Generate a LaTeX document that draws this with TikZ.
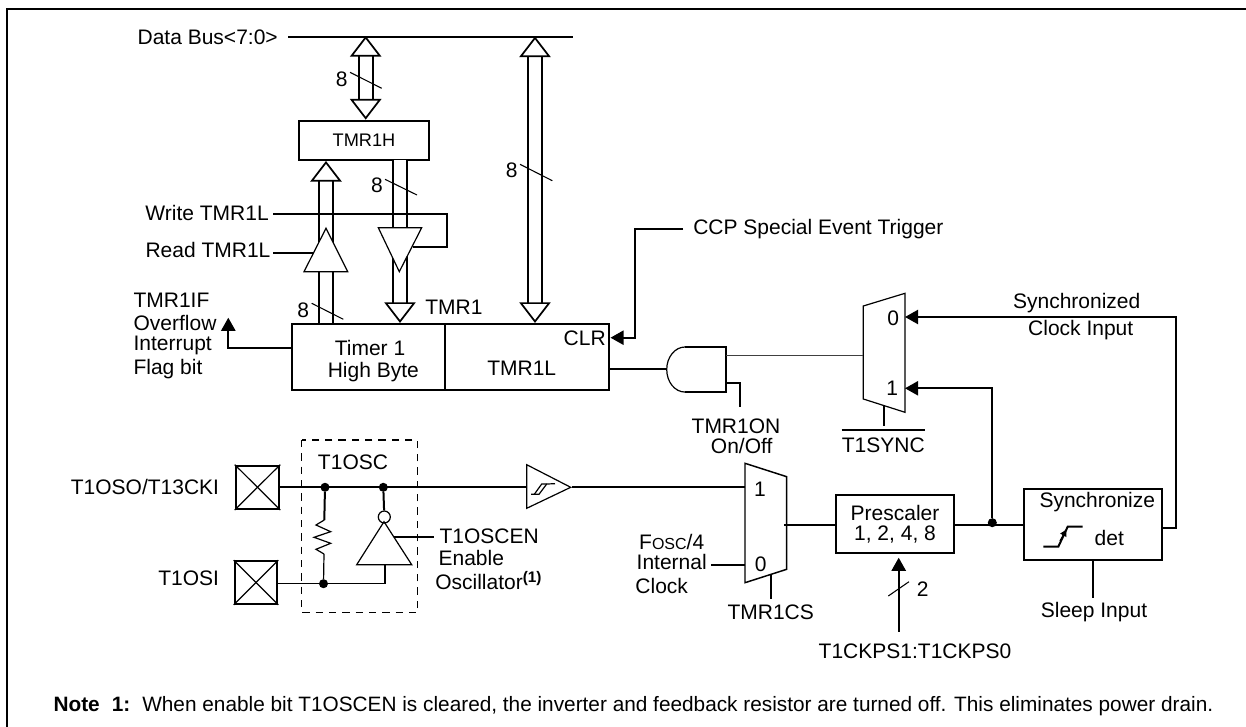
\documentclass[tikz,border=0pt]{standalone}
\usepackage{fontspec}
\setmainfont{Liberation Sans}
\usetikzlibrary{arrows.meta}
\begin{document}
\begin{tikzpicture}[x=.75pt,y=-.75pt]
      \tikzset{wire/.style={line width=1.5pt},
               thinwire/.style={line width=.9pt},
               box/.style={draw, line width=1.5pt, inner sep=0pt},
               lab/.style={inner sep=0pt, font=\fontsize{15.75}{20}\selectfont},
               dot/.style={circle, fill=black, inner sep=0pt, minimum size=6.8pt},
               filltip/.style={-{Triangle[length=9.8pt,width=10.6pt]}},
               bus/.style={double, double distance=8.8pt, line width=1.5pt, >={Triangle[open,fill=white,length=15.5pt,width=23.5pt,line width=1.3pt]}},
               slash/.style={line width=.8pt}}
      \useasboundingbox (0,0) rectangle (1246,727);
%% Frame
      \coordinate (cornerb) at (7,727);
      \coordinate (cornera) at (7,9);
      \coordinate (cornerc) at (1246,9);
      \draw[line width=1.7pt] (cornerb) -- (cornera) -- (cornerc);
%% Registers
      \node[box, minimum width=98pt, minimum height=29.5pt, font=\fontsize{13.65}{16}\selectfont] (tmrh) at (364,140.3) {TMR1H};
      \node[box, minimum width=114.8pt, minimum height=49.3pt] (timerh) at (368.5,356.8) {};
      \node[box, minimum width=123pt, minimum height=49.3pt] (timerl) at (527,356.8) {};
      \node[lab] (timerha) at (370,347.7) {Timer 1};
      \node[lab] (timerhb) at (373.3,371.7) {High Byte};
      \node[lab] (timerlb) at (521.7,368.3) {TMR1L};
      \node[lab, anchor=east] (clr) at (606,338) {CLR};
      \node[lab, anchor=west] (tmrone) at (425,307.7) {TMR1};
%% Data bus
      \node[lab, anchor=east] (ldbus) at (278,37) {Data Bus<7:0>};
      \coordinate (dbusw) at (288,36.7);
      \coordinate (dbuse) at (573,36.7);
      \draw[wire] (dbusw) -- (dbuse);
      \coordinate (busa) at (365.7,36);
      \coordinate (busb) at (535,36.5);
      \coordinate (rdbus) at (326,323.5);
      \coordinate (wrbus) at (400,160.5);
      \draw[bus, <->] (busa) -- (busa |- tmrh.north);
      \draw[bus, <->] (busb) -- (busb |- timerl.north);
      \draw[bus, ->] (rdbus) -- (rdbus |- tmrh.south);
      \draw[bus, ->] (wrbus) -- (wrbus |- timerh.north);
%% Widths
      \node[lab] (na) at (341.7,79.3) {8};
      \node[lab] (nb) at (377,185) {8};
      \node[lab] (nc) at (511.7,170.7) {8};
      \node[lab] (nd) at (303.3,310) {8};
      \draw[slash] (350,72.3) -- (381.7,88.3);
      \draw[slash] (385,179.3) -- (417,195);
      \draw[slash] (520,164.3) -- (552.3,180.7);
      \draw[slash] (311.7,303.3) -- (343.3,319.3);
%% Read and write buffers
      \draw[thinwire, fill=white] (326,228.3) -- (304,271.7) -- (347.7,271.7) -- cycle;
      \draw[thinwire, fill=white] (378.3,227.7) -- (421.7,227.7) -- (399.3,271.7) -- cycle;
      \node[lab, anchor=east] (lwrite) at (269,212.7) {Write TMR1L};
      \node[lab, anchor=east] (lread) at (270.7,250) {Read TMR1L};
      \coordinate (wra) at (273.3,213.7);
      \coordinate (wrb) at (447.3,213.7);
      \coordinate (wrc) at (413,247);
      \coordinate (rda) at (273.3,253);
      \coordinate (rdb) at (313,253);
      \draw[wire] (wra) -- (wrb) |- (wrc);
      \draw[wire] (rda) -- (rdb);
%% Overflow flag
      \node[lab, anchor=west] (ifa) at (133.3,300) {TMR1IF};
      \node[lab, anchor=west] (ifb) at (133.3,323.3) {Overflow};
      \node[lab, anchor=west] (ifc) at (133.3,345) {Interrupt};
      \node[lab, anchor=west] (ifd) at (133.3,369) {Flag bit};
      \coordinate (ovfa) at (292,348);
      \coordinate (ovfb) at (228.3,317.7);
      \draw[wire, filltip] (ovfa) -| (ovfb);
%% Special event trigger
      \node[lab, anchor=west] (ccp) at (693,229) {CCP Special Event Trigger};
      \coordinate (ccpa) at (683,229);
      \coordinate (ccpb) at (635,229);
      \coordinate (clrin) at (610.5,337.7);
      \draw[wire, filltip] (ccpa) -- (ccpb) |- (clrin);
%% AND gate
      \draw[wire] (685,347) -- (726,347) -- (726,392) -- (685,392);
      \draw[thinwire] (685,347) arc[start angle=90, end angle=270, x radius=13.7pt, y radius=16.9pt];
      \coordinate (anda) at (666.7,368.7);
      \coordinate (andb) at (726,382.7);
      \coordinate (andc) at (740,406.7);
      \coordinate (andout) at (726,355.7);
      \draw[wire] (timerl.east |- anda) -- (anda);
      \draw[wire] (andb) -| (andc);
      \node[lab] (ona) at (736,426) {TMR1ON};
      \node[lab] (onb) at (741.7,446) {On/Off};
%% Upper multiplexer
      \draw[thinwire] (863.3,306) -- (905,293.3) -- (905,412.3) -- (863.3,399) -- cycle;
      \node[lab] (upz) at (893.3,318.3) {0};
      \node[lab] (upo) at (892.3,388.3) {1};
      \coordinate (upin) at (863.3,355.7);
      \draw[thinwire, draw=black!75] (andout) -- (upin);
      \coordinate (ups) at (884,405.5);
      \coordinate (upt) at (884,426);
      \draw[wire] (ups) -- (upt);
      \node[lab] (tsync) at (883.3,445) {T1SYNC};
      \draw[line width=1.1pt] ([yshift=5.4pt]tsync.north west) -- ([yshift=5.4pt]tsync.north east);
%% Lower multiplexer
      \draw[line width=1.1pt] (745,463.3) -- (786.7,476.7) -- (786.7,569.3) -- (745,582.7) -- cycle;
      \node[lab] (loo) at (760,489.3) {1};
      \node[lab] (loz) at (760.7,564.3) {0};
      \coordinate (loa) at (745,487.3);
      \coordinate (lob) at (745,565);
      \coordinate (loc) at (711,565);
      \coordinate (lod) at (784.3,525);
      \coordinate (los) at (771,574.5);
      \coordinate (lot) at (771,599.3);
      \draw[wire] (loc) -- (lob);
      \draw[wire] (los) -- (lot);
      \node[lab] (fosc) at (671.7,541.7) {F{\fontsize{12}{14}\selectfont OSC}/4};
      \node[lab] (fint) at (671.7,562.3) {Internal};
      \node[lab] (fclk) at (661.7,585.7) {Clock};
      \node[lab] (tcs) at (770.7,612.7) {TMR1CS};
%% Prescaler
      \node[box, minimum width=89pt, minimum height=43.5pt, font=\fontsize{15.75}{15}\selectfont, align=center] (presc) at (895,524) {Prescaler\\1, 2, 4, 8};
      \draw[wire] (lod) -- (presc.west |- lod);
      \coordinate (pscb) at (898.7,631.7);
      \coordinate (psct) at (898.7,557.7);
      \draw[wire, filltip] (pscb) -- (psct);
      \draw[slash] (888.3,596) -- (909,581.7);
      \node[lab] (two) at (922.7,589) {2};
      \node[lab] (tck) at (915,651.7) {T1CKPS1:T1CKPS0};
%% Synchronizer
      \node[box, minimum width=104pt, minimum height=53.2pt] (sync) at (1093,524.5) {};
      \node[lab] (synca) at (1097.3,501.7) {Synchronize};
      \node[lab] (syncb) at (1109.3,537.7) {det};
      \draw[wire] (1043.3,546.7) -- (1058.3,546.7) -- (1067.7,526.7) -- (1082.7,526.7);
      \draw[-{Triangle[length=5pt,width=5pt]}, line width=1pt] (1060,541) -- (1066.5,529.5);
      \node[dot] (djunc) at (992.3,522.7) {};
      \coordinate (mida) at (954.3,525);
      \coordinate (midb) at (1023.7,525);
      \draw[wire] (mida) -- (midb);
      \coordinate (upone) at (905,388.3);
      \draw[wire, filltip] (djunc) |- (upone);
      \coordinate (syncout) at (1162.3,527.7);
      \coordinate (syncr) at (1176,527.7);
      \coordinate (upzero) at (905,317);
      \draw[wire, filltip] (syncout) -- (syncr) |- (upzero);
      \node[lab] (clka) at (1076.7,302.7) {Synchronized};
      \node[lab] (clkb) at (1080.7,330.5) {Clock Input};
      \coordinate (sleept) at (1093,597.7);
      \draw[wire] (sync.south -| sleept) -- (sleept);
      \node[lab] (sleep) at (1094,612.3) {Sleep Input};
%% Oscillator
      \node[box, minimum width=32.7pt, minimum height=32.5pt] (pada) at (257.5,487.3) {};
      \node[box, minimum width=32pt, minimum height=32pt] (padb) at (256,582.5) {};
      \draw[thinwire] (pada.north west) -- (pada.south east);
      \draw[thinwire] (pada.north east) -- (pada.south west);
      \draw[thinwire] (padb.north west) -- (padb.south east);
      \draw[thinwire] (padb.north east) -- (padb.south west);
      \node[lab, anchor=east] (lpada) at (219.3,487.3) {T1OSO/T13CKI};
      \node[lab, anchor=east] (lpadb) at (219.3,578.3) {T1OSI};
      \draw[line width=1.1pt, dashed, dash pattern=on 5.5pt off 4.5pt] (301.7,440) rectangle (417.7,612.7);
      \node[lab] (losc) at (353,462.7) {T1OSC};
      \node[dot] (da) at (325,487.3) {};
      \node[dot] (db) at (383.3,487.3) {};
      \node[dot] (dc) at (323.5,583.7) {};
      \coordinate (bufin) at (526.7,487.3);
      \draw[wire] (pada.east |- bufin) -- (bufin);
      \coordinate (bufout) at (571.7,487.3);
      \draw[wire] (bufout) -- (loa);
      \coordinate (resa) at (324.3,520);
      \coordinate (resb) at (324,554);
      \draw[wire] (da) -- (resa);
      \draw[thinwire] (resa) -- (316,525) -- (330.7,531.7) -- (314,537.3) -- (330.7,543.3) -- (316,549.3) -- (resb);
      \draw[thinwire] (resb) -- (dc);
%% Inverter
      \draw[thinwire, fill=white] (384,521.7) -- (356.7,564.7) -- (411.7,564.7) -- cycle;
      \node[draw, thinwire, circle, inner sep=0pt, minimum size=9pt] (invo) at (384.3,517) {};
      \draw[wire] (db) -- (invo);
      \coordinate (invin) at (385,564.7);
      \draw[thinwire] (padb.east |- dc) -| (invin);
      \coordinate (ena) at (394,537);
      \coordinate (enb) at (434,537);
      \draw[wire] (ena) -- (enb);
      \node[lab, anchor=west] (lena) at (439.3,536.7) {T1OSCEN};
      \node[lab, anchor=west] (lenb) at (438.3,557.7) {Enable};
      \node[lab, anchor=west] (lenc) at (435,580.7) {Oscillator\raisebox{5pt}{\fontsize{11.5}{12}\selectfont\textbf{(1)}}};
%% Schmitt buffer
      \draw[thinwire, fill=white] (526.7,464.7) -- (570.7,487.3) -- (526.7,508.3) -- cycle;
      \draw[thinwire] (531,494.3) -- (539,494.3) -- (546.7,484) -- (555,483.7);
      \draw[thinwire] (534.3,494.3) -- (541.7,484) -- (546.7,484);
%Note
      \node[inner sep=0pt, anchor=west, font=\fontsize{15.6}{18}\selectfont] (note) at (53.3,705.7) {\textbf{Note\hspace{4.7pt} 1:}\hspace{3.2pt} When enable bit T1OSCEN is cleared, the inverter and feedback resistor are turned off. This eliminates power drain.};
\end{tikzpicture}
\end{document}
